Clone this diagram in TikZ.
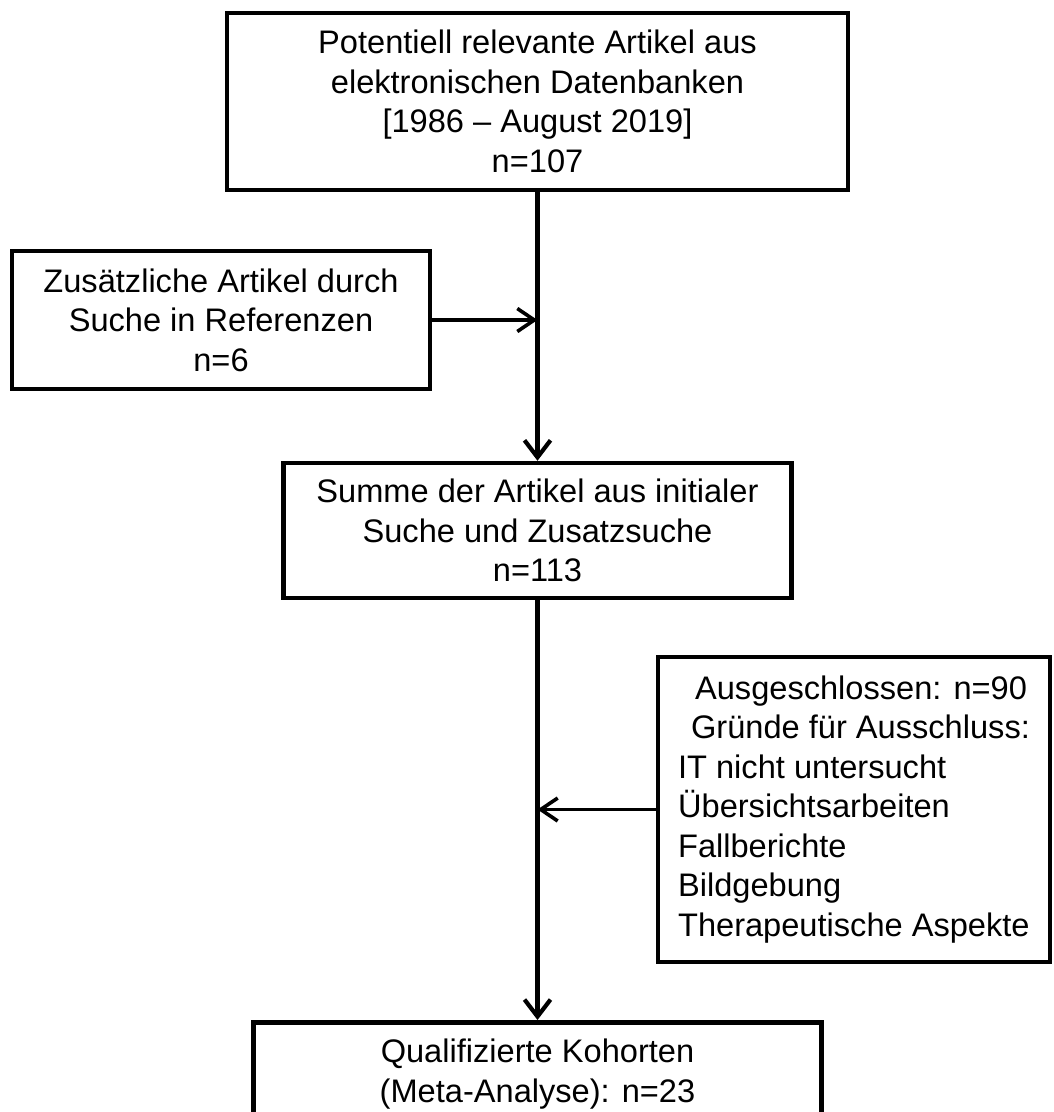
\documentclass[tikz,border=0pt]{standalone}
\usepackage{fontspec}
\setmainfont{Liberation Sans}
\usetikzlibrary{arrows.meta,calc}
\begin{document}
\begin{tikzpicture}[x=1pt,y=-1pt,
  box/.style={draw=black,line width=4.5pt,fill=white,inner sep=0pt,align=center,
    font=\fontsize{32.6pt}{39.5pt}\selectfont},
  arr/.style={line width=4.2pt,-{Straight Barb[length=17pt,width=26pt]}},
  arrh/.style={line width=3.6pt,-{Straight Barb[length=17pt,width=23pt]}}]
\useasboundingbox (0,0) rectangle (1054,1112);
\fill[white] (0,0) rectangle (1054,1112);
\node[box,minimum width=621pt,minimum height=177pt] (b1) at (537.5,101.5)
  {Potentiell relevante Artikel aus\\ elektronischen Datenbanken\\ {[}1986 – August 2019{]}\\ n=107};
\node[box,minimum width=418pt,minimum height=138pt] (b2) at (221,320)
  {Zusätzliche Artikel durch\\ Suche in Referenzen\\ n=6};
\node[box,minimum width=508pt,minimum height=135pt] (b3) at (537.5,530.5)
  {Summe der Artikel aus initialer\\ Suche und Zusatzsuche\\ n=113};
\node[box,minimum width=392pt,minimum height=305pt,align=left] (b4) at (854,809.5)
  {\hspace*{17pt}Ausgeschlossen: n=90\\ \hspace*{13pt}Gründe für Ausschluss:\\ IT nicht untersucht\\ Übersichtsarbeiten\\ Fallberichte\\ Bildgebung\\ Therapeutische Aspekte};
\node[box,minimum width=568pt,minimum height=104pt,anchor=north] (b5) at (537.5,1020)
  {Qualifizierte Kohorten\\ (Meta-Analyse): n=23};
\coordinate (j1) at (b2.east -| b1.south);
\coordinate (j2) at (b4.west -| b3.south);
\draw[arr] (b1.south) -- (b3.north);
\draw[arr] (b3.south) -- (b5.north);
\draw[arrh] (b2.east) -- (j1);
\draw[arrh] (b4.west) -- (j2);
\end{tikzpicture}
\end{document}
